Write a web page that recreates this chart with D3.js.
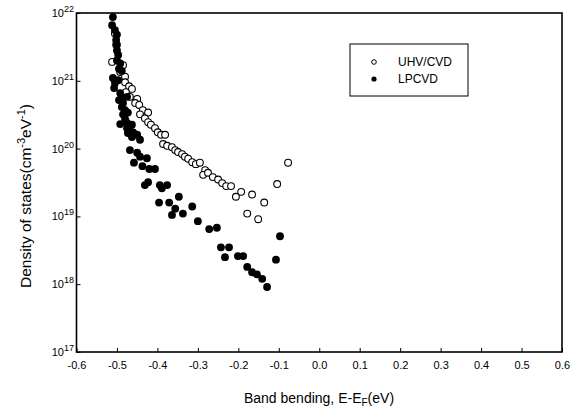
<!DOCTYPE html>
<html><head><meta charset="utf-8">
<script src="https://cdn.jsdelivr.net/npm/d3@7"></script>
<style>body{margin:0;background:#fff}svg{display:block}</style>
</head><body>
<svg id="c" width="582" height="412"></svg>
<script>
// ---- data ----
const xTicks = [-0.6,-0.5,-0.4,-0.3,-0.2,-0.1,0.0,0.1,0.2,0.3,0.4,0.5,0.6];
const yTickExps = [17,18,19,20,21,22];
const seriesNames = ["UHV/CVD","LPCVD"];

const uhvX = [-0.502,-0.505,-0.512,-0.485,-0.492,-0.480,-0.480,-0.470,-0.463,-0.478,-0.468,-0.450,-0.455,-0.445,-0.436,-0.423,-0.443,-0.431,-0.423,-0.416,-0.406,-0.399,-0.391,-0.381,-0.386,-0.376,-0.364,-0.356,-0.349,-0.339,-0.332,-0.324,-0.314,-0.305,-0.295,-0.282,-0.287,-0.275,-0.263,-0.250,-0.240,-0.230,-0.218,-0.206,-0.193,-0.166,-0.178,-0.151,-0.136,-0.104,-0.077];
const uhvY = [3.4e21,5.0e21,1.9e21,1.7e21,1.35e21,1.15e21,9.5e20,8.3e20,7.6e20,6.8e20,5.8e20,5.4e20,4.7e20,4.4e20,3.7e20,3.4e20,3.2e20,2.8e20,2.45e20,2.25e20,2.0e20,1.74e20,1.6e20,1.6e20,1.17e20,1.1e20,1.05e20,9.5e19,8.9e19,8.3e19,7.6e19,7.1e19,6.3e19,5.9e19,6.2e19,4.8e19,4.1e19,4.4e19,3.8e19,3.5e19,3.1e19,2.8e19,2.8e19,1.95e19,2.3e19,2.1e19,1.1e19,9.1e18,1.6e19,3.0e19,6.2e19];

const lpX = [-0.510,-0.512,-0.505,-0.500,-0.502,-0.500,-0.500,-0.497,-0.500,-0.492,-0.495,-0.488,-0.510,-0.505,-0.497,-0.507,-0.492,-0.488,-0.495,-0.485,-0.475,-0.488,-0.480,-0.485,-0.473,-0.480,-0.475,-0.492,-0.463,-0.475,-0.468,-0.460,-0.473,-0.463,-0.450,-0.443,-0.468,-0.450,-0.443,-0.426,-0.458,-0.437,-0.420,-0.406,-0.431,-0.423,-0.394,-0.376,-0.389,-0.396,-0.371,-0.347,-0.356,-0.364,-0.337,-0.314,-0.300,-0.272,-0.253,-0.243,-0.223,-0.233,-0.201,-0.188,-0.178,-0.166,-0.154,-0.141,-0.129,-0.107,-0.097];
const lpY = [8.7e21,6.6e21,5.6e21,4.8e21,4.0e21,3.4e21,2.8e21,2.4e21,2.0e21,1.8e21,1.5e21,1.4e21,1.1e21,9.3e20,1.02e21,7.8e20,6.6e20,5.6e20,5.2e20,4.7e20,5.8e20,4.1e20,3.7e20,3.2e20,3.4e20,2.75e20,2.4e20,2.3e20,2.25e20,2.0e20,1.86e20,1.74e20,1.7e20,1.48e20,1.6e20,1.35e20,9.5e19,8.7e19,7.6e19,7.2e19,6.2e19,5.5e19,5.0e19,5.0e19,2.9e19,3.2e19,2.9e19,2.9e19,2.6e19,1.6e19,1.6e19,1.95e19,1.3e19,1.05e19,1.1e19,1.4e19,8.5e18,6.5e18,6.8e18,3.5e18,3.5e18,2.5e18,2.6e18,2.6e18,1.8e18,1.5e18,1.4e18,1.2e18,9.1e17,2.3e18,5.1e18];

// ---- chart ----
const svg = d3.select("#c");
const font = "'Liberation Sans', Arial, sans-serif";
const L = 76.5, R = 562, T = 13, B = 352;
const x = d3.scaleLinear().domain([-0.6,0.6]).range([L,R]);
const y = d3.scaleLog().domain([1e17,1e22]).range([B,T]);

// x axis
const xa = svg.append("g").attr("transform",`translate(0,${B})`)
  .call(d3.axisBottom(x).tickValues(xTicks).tickSizeInner(-4).tickSizeOuter(0)
    .tickFormat(d => (Math.abs(d) < 1e-9 ? 0 : d).toFixed(1)));
xa.select(".domain").remove();
xa.selectAll("line").attr("stroke","#000").attr("stroke-width",1);
xa.selectAll("text").attr("y",9).attr("dy","0.71em").attr("font-family",font).attr("font-size",11).attr("fill","#000");

// y axis
const ya = svg.append("g").attr("transform",`translate(${L},0)`)
  .call(d3.axisLeft(y).tickValues(yTickExps.map(e => Math.pow(10,e))).tickSizeInner(-4).tickSizeOuter(0).tickFormat(""));
ya.select(".domain").remove();
ya.selectAll("line").attr("stroke","#000").attr("stroke-width",1);
yTickExps.forEach(e => {
  const t = svg.append("text").attr("x",74).attr("y",y(Math.pow(10,e))+4)
    .attr("text-anchor","end").attr("font-family",font).attr("font-size",11).attr("fill","#000");
  t.append("tspan").text("10");
  t.append("tspan").attr("dy",-5).attr("font-size",9).text(String(e));
});

// frame
svg.append("rect").attr("x",L).attr("y",T).attr("width",R-L).attr("height",B-T)
  .attr("fill","none").attr("stroke","#000").attr("stroke-width",1.6);

// data
const g = svg.append("g");
g.selectAll("circle.u").data(d3.zip(uhvX,uhvY)).join("circle").attr("class","u")
  .attr("cx",d=>x(d[0])).attr("cy",d=>y(d[1])).attr("r",3.4)
  .attr("fill","#fff").attr("stroke","#000").attr("stroke-width",1.1);
g.selectAll("circle.l").data(d3.zip(lpX,lpY)).join("circle").attr("class","l")
  .attr("cx",d=>x(d[0])).attr("cy",d=>y(d[1])).attr("r",3.9)
  .attr("fill","#000");

// legend
svg.append("rect").attr("x",350).attr("y",44).attr("width",118).attr("height",52)
  .attr("fill","#fff").attr("stroke","#000").attr("stroke-width",1);
svg.append("circle").attr("cx",374).attr("cy",62).attr("r",2.3).attr("fill","#fff").attr("stroke","#000").attr("stroke-width",1);
svg.append("circle").attr("cx",374).attr("cy",79).attr("r",2.6).attr("fill","#000");
seriesNames.forEach((n,i) => {
  svg.append("text").attr("x",398).attr("y",66+i*17).attr("font-family",font).attr("font-size",12).attr("fill","#000").text(n);
});

// titles
const xt = svg.append("text").attr("x",319).attr("y",403).attr("text-anchor","middle")
  .attr("font-family",font).attr("font-size",14).attr("fill","#000");
xt.append("tspan").text("Band bending, E-E");
xt.append("tspan").attr("dy",3).attr("font-size",10).text("F");
xt.append("tspan").attr("dy",-3).text("(eV)");

const yt = svg.append("text").attr("transform","translate(31,196) rotate(-90)").attr("text-anchor","middle")
  .attr("font-family",font).attr("font-size",15.5).attr("fill","#000");
yt.append("tspan").text("Density of states(cm");
yt.append("tspan").attr("dy",-6).attr("font-size",11).text("-3");
yt.append("tspan").attr("dy",6).text("eV");
yt.append("tspan").attr("dy",-6).attr("font-size",11).text("-1");
yt.append("tspan").attr("dy",6).text(")");
</script>
</body></html>
